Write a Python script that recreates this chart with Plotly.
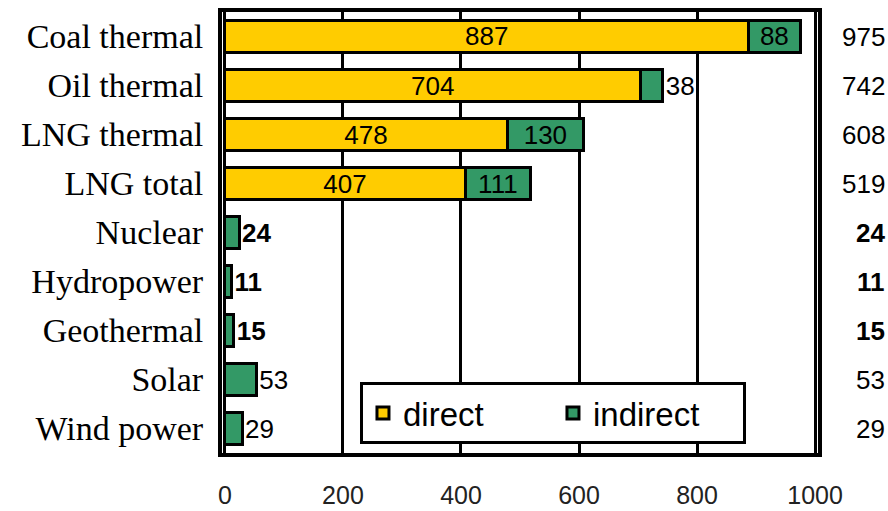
import plotly.graph_objects as go

# Emission factors by generation source (g-CO2/kWh), split into direct and indirect parts
categories = ["Coal thermal", "Oil thermal", "LNG thermal", "LNG total",
              "Nuclear", "Hydropower", "Geothermal", "Solar", "Wind power"]
direct = [887, 704, 478, 407, 0, 0, 0, 0, 0]
indirect = [88, 38, 130, 111, 24, 11, 15, 53, 29]
totals = [975, 742, 608, 519, 24, 11, 15, 53, 29]
x_ticks = [0, 200, 400, 600, 800, 1000]

YELLOW = "#FFCC00"
GREEN = "#339966"
SANS = "Liberation Sans, Arial, sans-serif"
SERIF = "Liberation Serif, Times New Roman, serif"

bold_rows = {"Nuclear", "Hydropower", "Geothermal"}

direct_text = [str(v) if v > 0 else "" for v in direct]
indirect_text = [f"<b>{v}</b>" if c in bold_rows else str(v)
                 for c, v in zip(categories, indirect)]
indirect_pos = ["inside" if (d > 0 and v >= 60) else "outside"
                for d, v in zip(direct, indirect)]

fig = go.Figure()
fig.add_trace(go.Bar(
    y=categories, x=direct, name="direct", orientation="h",
    marker=dict(color=YELLOW, line=dict(color="black", width=3)),
    text=direct_text, textposition="inside", insidetextanchor="middle",
    textangle=0, textfont=dict(family=SANS, size=26, color="black"),
    constraintext="none", cliponaxis=False,
))
fig.add_trace(go.Bar(
    y=categories, x=indirect, name="indirect", orientation="h",
    marker=dict(color=GREEN, line=dict(color="black", width=3)),
    text=indirect_text, textposition=indirect_pos, insidetextanchor="middle",
    textangle=0, textfont=dict(family=SANS, size=26, color="black"),
    constraintext="none", cliponaxis=False,
))

# Totals column to the right of the plot frame
for c, t in zip(categories, totals):
    label = f"<b>{t}</b>" if c in bold_rows else str(t)
    fig.add_annotation(x=1.116, xref="paper", y=c, yref="y", text=label,
                       xanchor="right", yanchor="middle", showarrow=False,
                       font=dict(family=SANS, size=26, color="black"))

fig.update_layout(
    width=888, height=511,
    margin=dict(l=222, r=70, t=12, b=58),
    barmode="stack", bargap=0.35,
    plot_bgcolor="white", paper_bgcolor="white",
    showlegend=True,
    legend=dict(orientation="h", x=0.2315, y=0.161, xanchor="left", yanchor="top",
                bgcolor="white", bordercolor="black", borderwidth=3,
                font=dict(family=SANS, size=33, color="black"),
                entrywidth=145, entrywidthmode="pixels",
                itemwidth=30, traceorder="normal"),
    xaxis=dict(range=[-5, 1005], tickvals=x_ticks, ticktext=[str(v) for v in x_ticks],
               showgrid=True, gridcolor="black", gridwidth=3,
               showline=True, linecolor="black", linewidth=4, mirror=True,
               zeroline=False, ticks="", ticklabelstandoff=17, automargin=False,
               tickfont=dict(family=SANS, size=25, color="#222")),
    yaxis=dict(autorange="reversed", showgrid=False,
               showline=True, linecolor="black", linewidth=4, mirror=True,
               ticks="", ticklabelstandoff=8, automargin=False,
               tickfont=dict(family=SERIF, size=34, color="black")),
)

fig.write_html("out.html")
